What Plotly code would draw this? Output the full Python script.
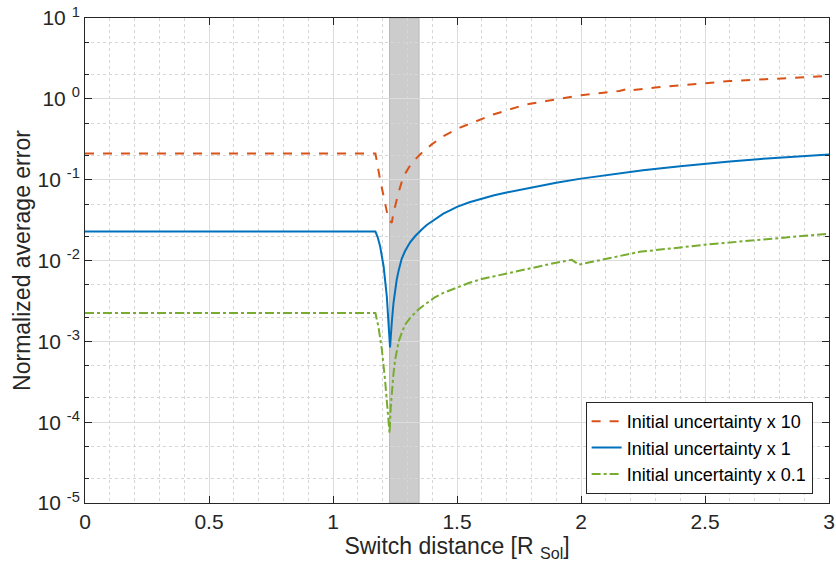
import plotly.graph_objects as go

# ---- data ----
x_orange = [0, 1.171, 1.190, 1.206, 1.224, 1.237, 1.244, 1.264, 1.284, 1.318, 1.351, 1.398,
            1.445, 1.512, 1.579, 1.646, 1.713, 1.78, 1.86, 1.914, 2.0, 2.10, 2.155, 2.195,
            2.21, 2.3, 2.4, 2.5, 2.6, 2.7, 2.8, 2.9, 3.0]
y_orange = [0.211, 0.211, 0.10, 0.057, 0.032, 0.0292, 0.039, 0.069, 0.11, 0.162, 0.205, 0.273,
            0.346, 0.44, 0.53, 0.64, 0.74, 0.855, 0.94, 1.0, 1.11, 1.20, 1.25, 1.35,
            1.28, 1.38, 1.47, 1.56, 1.66, 1.72, 1.79, 1.85, 1.92]

x_blue = [0, 1.171, 1.180, 1.190, 1.204, 1.217, 1.230, 1.232, 1.237, 1.244, 1.250, 1.257, 1.265,
          1.277, 1.290, 1.311, 1.330, 1.344, 1.360, 1.378, 1.395, 1.410, 1.445, 1.470, 1.500, 1.550,
          1.600, 1.650, 1.700, 1.800, 1.900, 2.000, 2.100, 2.250, 2.400, 2.500, 2.600, 2.750,
          2.900, 3.000]
y_blue = [0.0228, 0.0228, 0.0195, 0.015, 0.0085, 0.0036, 0.00084, 0.0011, 0.0017, 0.0030, 0.0043, 0.0058, 0.0076,
          0.0105, 0.0130, 0.0168, 0.0198, 0.022, 0.0245, 0.0275, 0.0300, 0.0325, 0.038, 0.0415, 0.046, 0.0525,
          0.0585, 0.064, 0.0695, 0.0805, 0.0915, 0.103, 0.114, 0.131, 0.147, 0.158, 0.168, 0.183,
          0.197, 0.205]

x_green = [0, 1.171, 1.183, 1.197, 1.210, 1.221, 1.228, 1.233, 1.238, 1.244, 1.250, 1.257,
           1.265, 1.277, 1.290, 1.311, 1.330, 1.344, 1.360, 1.378, 1.410, 1.445, 1.480, 1.512, 1.550,
           1.600, 1.650, 1.700, 1.800, 1.900, 1.963, 1.992, 2.050, 2.100, 2.236, 2.400, 2.500,
           2.700, 2.850, 3.000]
y_green = [0.00224, 0.00224, 0.00153, 0.00079, 0.00033, 0.00013, 0.000073, 0.000156, 0.00026, 0.00040, 0.00058, 0.00079,
           0.0010, 0.00127, 0.0016, 0.00195, 0.00225, 0.00247, 0.0027, 0.00298, 0.0035, 0.00397, 0.0044, 0.0048, 0.0053,
           0.0059, 0.0064, 0.0069, 0.0081, 0.0094, 0.0102, 0.0089, 0.0097, 0.0105, 0.0128, 0.0145, 0.0157,
           0.0178, 0.0196, 0.0215]

series_names = ["Initial uncertainty x 10", "Initial uncertainty x 1", "Initial uncertainty x 0.1"]

band_x = [1.228, 1.347]

x_tickvals = [0, 0.5, 1, 1.5, 2, 2.5, 3]
x_ticktext = ["0", "0.5", "1", "1.5", "2", "2.5", "3"]
y_exponents = [-5, -4, -3, -2, -1, 0, 1]

FONT = "Liberation Sans, Arial, sans-serif"
AXC = "#262626"

fig = go.Figure()

fig.add_shape(type="rect", xref="x", yref="paper", x0=band_x[0], x1=band_x[1], y0=0, y1=1,
              fillcolor="#cccccc", line=dict(color="#b8b8b8", width=1), layer="between")

fig.add_trace(go.Scatter(x=x_orange, y=y_orange, mode="lines", name=series_names[0],
                         line=dict(color="#D95319", width=2, dash="dash")))
fig.add_trace(go.Scatter(x=x_blue, y=y_blue, mode="lines", name=series_names[1],
                         line=dict(color="#0072BD", width=2)))
fig.add_trace(go.Scatter(x=x_green, y=y_green, mode="lines", name=series_names[2],
                         line=dict(color="#77AC30", width=2, dash="dashdot")))

fig.update_layout(
    width=836, height=572,
    margin=dict(l=85, r=7, t=18, b=69),
    paper_bgcolor="white", plot_bgcolor="white",
    font=dict(family=FONT, size=20, color=AXC),
    showlegend=True,
    legend=dict(x=0.978, y=0.0186, xanchor="right", yanchor="bottom",
                bgcolor="white", bordercolor=AXC, borderwidth=1,
                font=dict(size=18, color="#000000"), tracegroupgap=0,
                itemwidth=30),
)

fig.update_xaxes(
    range=[0, 3.00001], tickvals=x_tickvals, ticktext=x_ticktext,
    automargin=False,
    showline=True, linecolor=AXC, linewidth=1, mirror="ticks",
    ticks="inside", ticklen=7, tickcolor=AXC,
    showgrid=True, gridcolor="#dcdcdc", gridwidth=1,
    zeroline=False,
    minor=dict(dtick=0.1, showgrid=True, gridcolor="#d6d6d6", griddash="dot", ticks=""),
    title=dict(text="Switch distance [R <sub>Sol</sub>]", font=dict(size=23), standoff=4),
    tickfont=dict(size=21),
)

fig.update_yaxes(
    type="log", range=[-5, 1.00001],
    automargin=False,
    tickvals=[10 ** e for e in y_exponents],
    ticktext=["10 <sup>%d</sup>" % e for e in y_exponents],
    showline=True, linecolor=AXC, linewidth=1, mirror="ticks",
    ticks="inside", ticklen=7, tickcolor=AXC,
    showgrid=True, gridcolor="#dcdcdc", gridwidth=1,
    zeroline=False,
    minor=dict(showgrid=True, gridcolor="#d6d6d6", griddash="dot", ticks="inside", ticklen=4,
               tickcolor=AXC),
    title=dict(text="Normalized average error", font=dict(size=23), standoff=0),
    tickfont=dict(size=21),
)

fig.write_html("out.html", config={"displayModeBar": False},
               post_script="document.body.style.margin='0';document.body.style.overflow='hidden';")
